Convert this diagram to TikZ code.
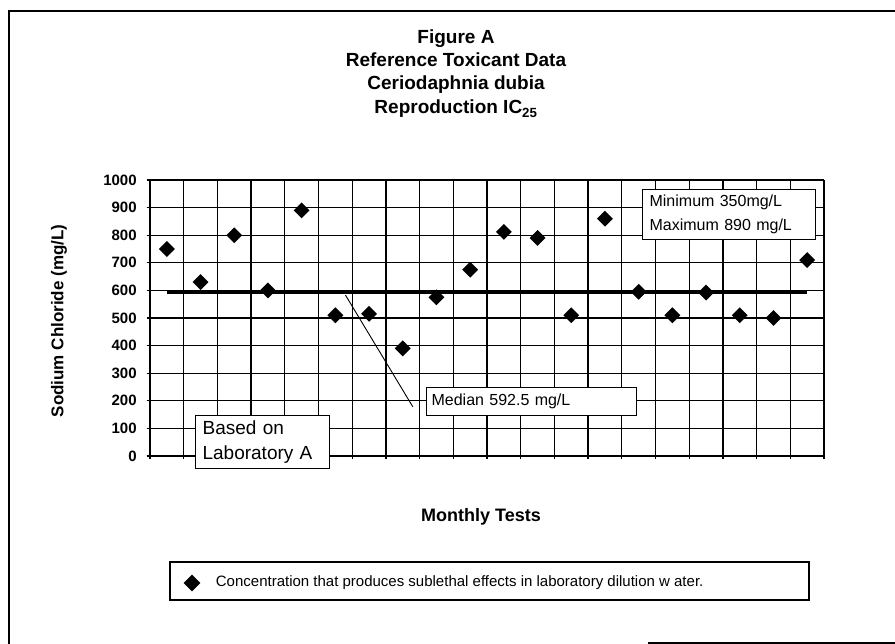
\documentclass[tikz,border=0pt]{standalone}
\usepackage{fontspec}
\setmainfont{Liberation Sans}
\usetikzlibrary{shapes.geometric,positioning}

\tikzset{
  gridline/.style={line width=1.3pt},
  datapoint/.style={diamond,fill=black,inner sep=0pt,minimum width=16pt,minimum height=16pt},
  titletext/.style={anchor=base,font=\fontsize{19}{22}\selectfont\bfseries},
  axislabel/.style={font=\fontsize{18}{22}\selectfont\bfseries},
  ticklabel/.style={anchor=east,inner sep=0pt,font=\fontsize{15}{18}\selectfont\bfseries},
  notebox/.style={draw,fill=white,line width=1.2pt,anchor=north west,align=left,inner ysep=0pt}
}

\begin{document}
\begin{tikzpicture}[x=1pt,y=1pt]
 \useasboundingbox (0,0) rectangle (895,644);
 \draw[line width=1.3pt] (895,633) -- (9,633) -- (9,0);
 \draw[line width=1.3pt] (648,1) -- (895,1);

 \node[titletext] (title1) at (456,600.7) {Figure A};
 \node[titletext] (title2) at (456,577.3) {Reference Toxicant Data};
 \node[titletext] (title3) at (456,554)   {Ceriodaphnia dubia};
 \node[titletext] (title4) at (456,530)   {Reproduction IC\textsubscript{25}};

 \node[axislabel,rotate=90,font=\fontsize{17}{20}\selectfont\bfseries] (ylabel) at (59,323) {Sodium Chloride (mg/L)};
 \node[axislabel] (xlabel) at (481,127) {Monthly Tests};

 \begin{scope}[shift={(150,188)},x=33.7pt,y=0.276pt]
  \foreach \v in {0,100,...,1000} {
   \draw[gridline] (-0.1,\v) -- (20,\v);
   \node[ticklabel] (tick\v) at (-0.39,\v) {\v};
  }
  \foreach \c in {0,...,20}
   \draw[gridline] (\c,-10) -- (\c,1000);

  \coordinate (medL) at (0.5,592.5);
  \coordinate (medR) at (19.5,592.5);
  \draw[line width=4pt] (medL) -- (medR);

  \foreach \v [count=\i] in {750,630,800,600,890,510,515,390,575,675,
                              812,790,510,860,595,510,592,510,500,710}
   \node[datapoint] (p\i) at (\i-0.5,\v) {};

  \coordinate (medptr) at (5.8,583);
  \coordinate (medtip) at (7.8,178);
  \draw[line width=0.9pt] (medptr) -- (medtip);
 \end{scope}

 \node[notebox,text width=159pt,inner xsep=7pt,minimum height=50pt,
       font=\fontsize{16}{24}\selectfont] (minmax) at (642,455)
       {Minimum 350mg/L\\Maximum 890 mg/L};
 \node[notebox,text width=200pt,inner xsep=5pt,minimum height=28pt,
       font=\fontsize{16}{19}\selectfont] (median) at (426,257)
       {Median 592.5 mg/L};
 \node[notebox,text width=120pt,inner xsep=7pt,minimum height=53pt,
       font=\fontsize{19}{25}\selectfont] (based) at (195,229)
       {Based on\\Laboratory A};

 \node[draw,line width=1.2pt,inner sep=0pt,minimum width=639pt,minimum height=38pt] (legend) at (489.5,63) {};
 \node[datapoint,minimum width=17pt,minimum height=17pt] (legsym) at (192,61) {};
 \node[right=15pt of legsym,inner sep=0pt,font=\fontsize{15}{18}\selectfont] (legtext)
       {Concentration that produces sublethal effects in laboratory dilution w ater.};
\end{tikzpicture}
\end{document}
